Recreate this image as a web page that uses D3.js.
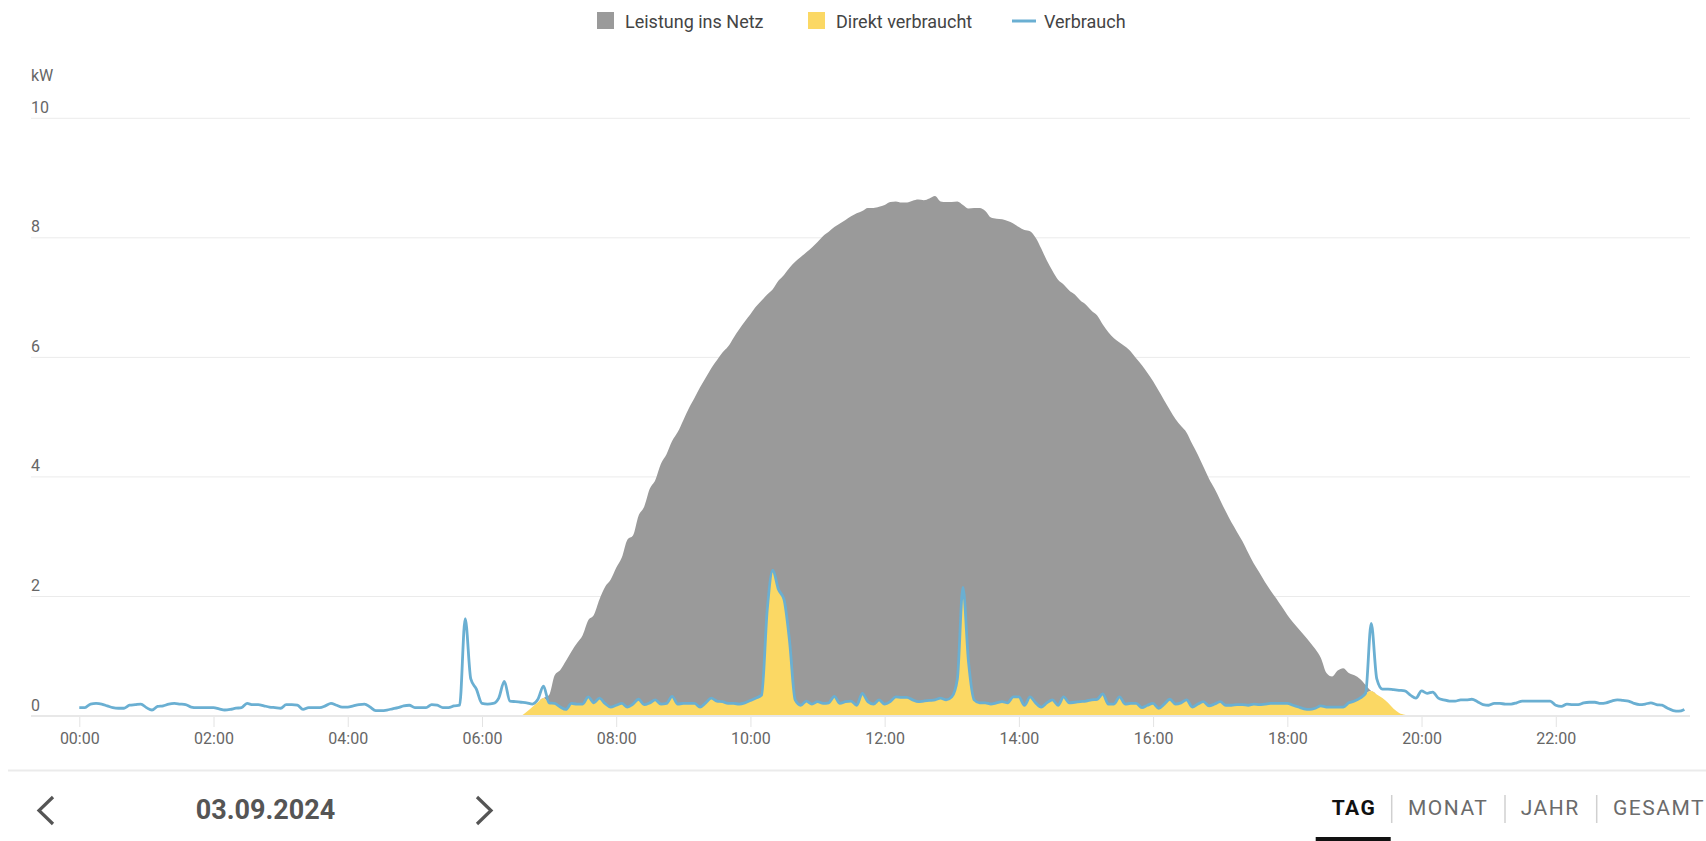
<!DOCTYPE html>
<html><head><meta charset="utf-8">
<script src="https://cdn.jsdelivr.net/npm/d3@7"></script>
<style>
html,body{margin:0;padding:0;background:#fff;}
svg{display:block;font-family:Roboto,"Noto Sans",sans-serif;}
</style></head><body>
<svg id="chart" width="1706" height="841"></svg>
<script>
// ---------- DATA ----------
const datum = "2024-09-03";
const datumLabel = "03.09.2024";
const unitLabel = "kW";
const tickLabels = ["00:00","02:00","04:00","06:00","08:00","10:00","12:00","14:00","16:00","18:00","20:00","22:00"];
const yTicks = [0, 2, 4, 6, 8, 10];
const seriesNames = ["Leistung ins Netz", "Direkt verbraucht", "Verbrauch"];
const tabs = ["TAG", "MONAT", "JAHR", "GESAMT"];
const stepMinutes = 5;

// Verbrauch (kW), 5-minute values from 00:00 to 23:55
const verbrauch = [
  0.14,0.14,0.20,0.21,0.20,0.17,0.14,0.13,0.13,0.18,0.19,0.20,
  0.14,0.10,0.16,0.17,0.20,0.21,0.20,0.19,0.15,0.14,0.14,0.14,
  0.14,0.12,0.10,0.11,0.13,0.14,0.21,0.19,0.19,0.17,0.15,0.14,
  0.13,0.19,0.19,0.18,0.11,0.14,0.14,0.14,0.17,0.21,0.18,0.15,
  0.15,0.17,0.19,0.20,0.15,0.09,0.09,0.10,0.12,0.14,0.17,0.18,
  0.14,0.14,0.14,0.19,0.18,0.14,0.14,0.17,0.18,1.63,0.62,0.45,
  0.21,0.20,0.21,0.30,0.58,0.25,0.24,0.23,0.22,0.20,0.28,0.50,
  0.22,0.21,0.15,0.11,0.21,0.20,0.20,0.32,0.22,0.30,0.21,0.15,
  0.18,0.21,0.15,0.20,0.28,0.19,0.22,0.27,0.20,0.21,0.33,0.20,
  0.21,0.21,0.21,0.15,0.22,0.30,0.25,0.24,0.21,0.21,0.20,0.22,
  0.26,0.30,0.35,1.77,2.44,2.12,1.95,1.25,0.27,0.18,0.25,0.20,
  0.24,0.21,0.22,0.33,0.21,0.24,0.25,0.18,0.38,0.24,0.20,0.27,
  0.20,0.24,0.32,0.31,0.31,0.27,0.24,0.25,0.26,0.27,0.30,0.27,
  0.32,0.62,2.15,0.90,0.27,0.22,0.22,0.20,0.22,0.24,0.22,0.32,
  0.32,0.18,0.32,0.22,0.15,0.22,0.27,0.18,0.32,0.22,0.23,0.24,
  0.25,0.27,0.28,0.37,0.20,0.20,0.32,0.20,0.21,0.21,0.14,0.18,
  0.21,0.13,0.20,0.28,0.20,0.22,0.27,0.15,0.20,0.24,0.17,0.20,
  0.24,0.18,0.18,0.19,0.19,0.18,0.20,0.19,0.20,0.21,0.21,0.21,
  0.21,0.18,0.15,0.12,0.11,0.13,0.17,0.15,0.15,0.15,0.15,0.22,
  0.25,0.30,0.38,1.55,0.62,0.45,0.45,0.44,0.43,0.42,0.35,0.30,
  0.42,0.38,0.40,0.30,0.27,0.25,0.25,0.27,0.27,0.28,0.24,0.19,
  0.18,0.21,0.21,0.20,0.20,0.22,0.25,0.25,0.25,0.25,0.25,0.25,
  0.18,0.16,0.20,0.19,0.19,0.22,0.23,0.23,0.21,0.22,0.25,0.27,
  0.26,0.25,0.21,0.19,0.20,0.22,0.19,0.18,0.13,0.09,0.08,0.11
];

// PV-Erzeugung (kW), 5-minute values from 06:35 to 19:50
const pvStart = "06:35";
const erzeugung = [
  0.00,0.07,0.15,0.23,0.30,
  0.35,0.68,0.77,0.92,1.08,1.22,1.35,1.60,1.69,1.95,2.16,2.28,
  2.48,2.65,2.95,3.02,3.35,3.50,3.80,3.95,4.22,4.38,4.60,4.75,
  4.95,5.15,5.32,5.50,5.66,5.82,5.95,6.08,6.18,6.33,6.47,6.60,
  6.72,6.85,6.95,7.05,7.14,7.28,7.38,7.50,7.60,7.68,7.76,7.84,
  7.93,8.03,8.10,8.18,8.24,8.30,8.36,8.41,8.45,8.50,8.50,8.52,
  8.55,8.60,8.61,8.59,8.59,8.62,8.64,8.63,8.66,8.70,8.61,8.60,
  8.60,8.61,8.55,8.49,8.50,8.50,8.45,8.34,8.32,8.31,8.28,8.24,
  8.18,8.13,8.11,8.00,7.82,7.62,7.45,7.30,7.22,7.12,7.05,6.95,
  6.88,6.78,6.70,6.55,6.42,6.32,6.25,6.18,6.10,5.98,5.87,5.74,
  5.60,5.44,5.28,5.12,4.97,4.85,4.74,4.55,4.37,4.17,3.97,3.80,
  3.61,3.42,3.24,3.08,2.92,2.73,2.55,2.40,2.24,2.10,1.97,1.83,
  1.69,1.57,1.46,1.35,1.24,1.12,0.97,0.72,0.66,0.76,0.80,0.72,
  0.68,0.62,0.52,0.42,0.36,0.30,0.22,0.12,0.05,0.02,0.00
];

// ---------- COLOURS ----------
const colNetz = "#9a9a9a", colDirekt = "#fbd864", colVerbrauch = "#6aafd2";

// ---------- BUILD ----------
const svg = d3.select("#chart");
svg.append("rect").attr("width",1706).attr("height",841).attr("fill","#fff");

const parse = d3.timeParse("%Y-%m-%d %H:%M");
const t0 = parse(datum + " 00:00");
const t1 = d3.timeDay.offset(t0, 1);
const x = d3.scaleTime().domain([t0, t1]).range([79.3, 1690]);
const y = d3.scaleLinear().domain([0, 10]).range([716, 118.3]);

const consData = verbrauch.map((v, i) => ({t: d3.timeMinute.offset(t0, i * stepMinutes), v}));
const pvT0 = parse(datum + " " + pvStart);
const pvOffset = Math.round((pvT0 - t0) / 60000 / stepMinutes);
const pvData = erzeugung.map((p, i) => {
  const c = verbrauch[pvOffset + i];
  const direkt = Math.min(p, c);
  return {t: d3.timeMinute.offset(pvT0, i * stepMinutes), direkt, netz: p - direkt};
});
const stacked = d3.stack().keys(["direkt", "netz"])(pvData);

// gridlines
const grid = svg.append("g");
grid.selectAll("line").data(yTicks.filter(d => d !== 0)).join("line")
  .attr("x1", 31).attr("x2", 1690)
  .attr("y1", d => y(d)).attr("y2", d => y(d))
  .attr("stroke", "#ebebeb").attr("stroke-width", 1);

// y labels
svg.append("g").selectAll("text").data(yTicks).join("text")
  .attr("x", 31).attr("y", d => y(d) - 5.5)
  .attr("font-size", 16).attr("fill", "#666").text(d => d);
svg.append("text").attr("x", 31).attr("y", 81).attr("font-size", 16).attr("fill", "#666").text(unitLabel);

// areas
const area = d3.area().x(d => x(d.data.t)).y0(d => y(d[0])).y1(d => y(d[1])).curve(d3.curveMonotoneX);
svg.append("path").datum(stacked[1]).attr("d", area).attr("fill", colNetz);
svg.append("path").datum(stacked[0]).attr("d", area).attr("fill", colDirekt);

// baseline
svg.append("line").attr("x1", 31).attr("x2", 1690).attr("y1", y(0)).attr("y2", y(0))
  .attr("stroke", "#e8e8e8").attr("stroke-width", 2);

// x axis
const xAxis = d3.axisBottom(x)
  .tickValues(tickLabels.map(s => parse(datum + " " + s)))
  .tickFormat(d3.timeFormat("%H:%M"))
  .tickSize(10).tickPadding(6);
const gx = svg.append("g").attr("transform", `translate(0,${y(0) + 1})`).call(xAxis);
gx.select(".domain").remove();
gx.selectAll(".tick line").attr("stroke", "#e3e3e3");
gx.selectAll(".tick text").attr("fill", "#666").attr("font-size", 16).attr("font-family", "Roboto");

// consumption line
const line = d3.line().x(d => x(d.t)).y(d => y(d.v)).curve(d3.curveMonotoneX);
svg.append("path").datum(consData).attr("d", line).attr("fill", "none")
  .attr("stroke", colVerbrauch).attr("stroke-width", 2.8).attr("stroke-linejoin", "round");

// legend
const lg = svg.append("g").attr("font-size", 18).attr("fill", "#444");
lg.append("rect").attr("x", 597).attr("y", 12).attr("width", 17).attr("height", 17).attr("fill", colNetz);
lg.append("text").attr("x", 625).attr("y", 28).text(seriesNames[0]);
lg.append("rect").attr("x", 808).attr("y", 12).attr("width", 17).attr("height", 17).attr("fill", colDirekt);
lg.append("text").attr("x", 836).attr("y", 28).text(seriesNames[1]);
lg.append("line").attr("x1", 1012).attr("x2", 1036).attr("y1", 21).attr("y2", 21)
  .attr("stroke", colVerbrauch).attr("stroke-width", 3);
lg.append("text").attr("x", 1044).attr("y", 28).text(seriesNames[2]);

// footer
svg.append("line").attr("x1", 8).attr("x2", 1706).attr("y1", 770.5).attr("y2", 770.5)
  .attr("stroke", "#ebebeb").attr("stroke-width", 2);
svg.append("path").attr("d", "M53,797 L39,810.5 L53,824").attr("fill", "none")
  .attr("stroke", "#555").attr("stroke-width", 3.2);
svg.append("path").attr("d", "M477,797 L491,810.5 L477,824").attr("fill", "none")
  .attr("stroke", "#555").attr("stroke-width", 3.2);
svg.append("text").attr("x", 265.5).attr("y", 818.5).attr("text-anchor", "middle")
  .attr("font-size", 27).attr("font-weight", "bold").attr("fill", "#555").text(datumLabel);

const tabX = [1331.7, 1408, 1520.7, 1613];
const tg = svg.append("g").attr("font-size", 21).attr("letter-spacing", "1.5px");
tabs.forEach((t, i) => {
  tg.append("text").attr("x", tabX[i]).attr("y", 815)
    .attr("font-weight", i === 0 ? "bold" : "normal")
    .attr("fill", i === 0 ? "#111" : "#6b6b6b").text(t);
});
[1391.7, 1505, 1596.7].forEach(sx => {
  svg.append("line").attr("x1", sx).attr("x2", sx).attr("y1", 795).attr("y2", 823)
    .attr("stroke", "#d0d0d0").attr("stroke-width", 1.5);
});
svg.append("rect").attr("x", 1315.7).attr("y", 837).attr("width", 75).attr("height", 4).attr("fill", "#111");
</script>
</body></html>
